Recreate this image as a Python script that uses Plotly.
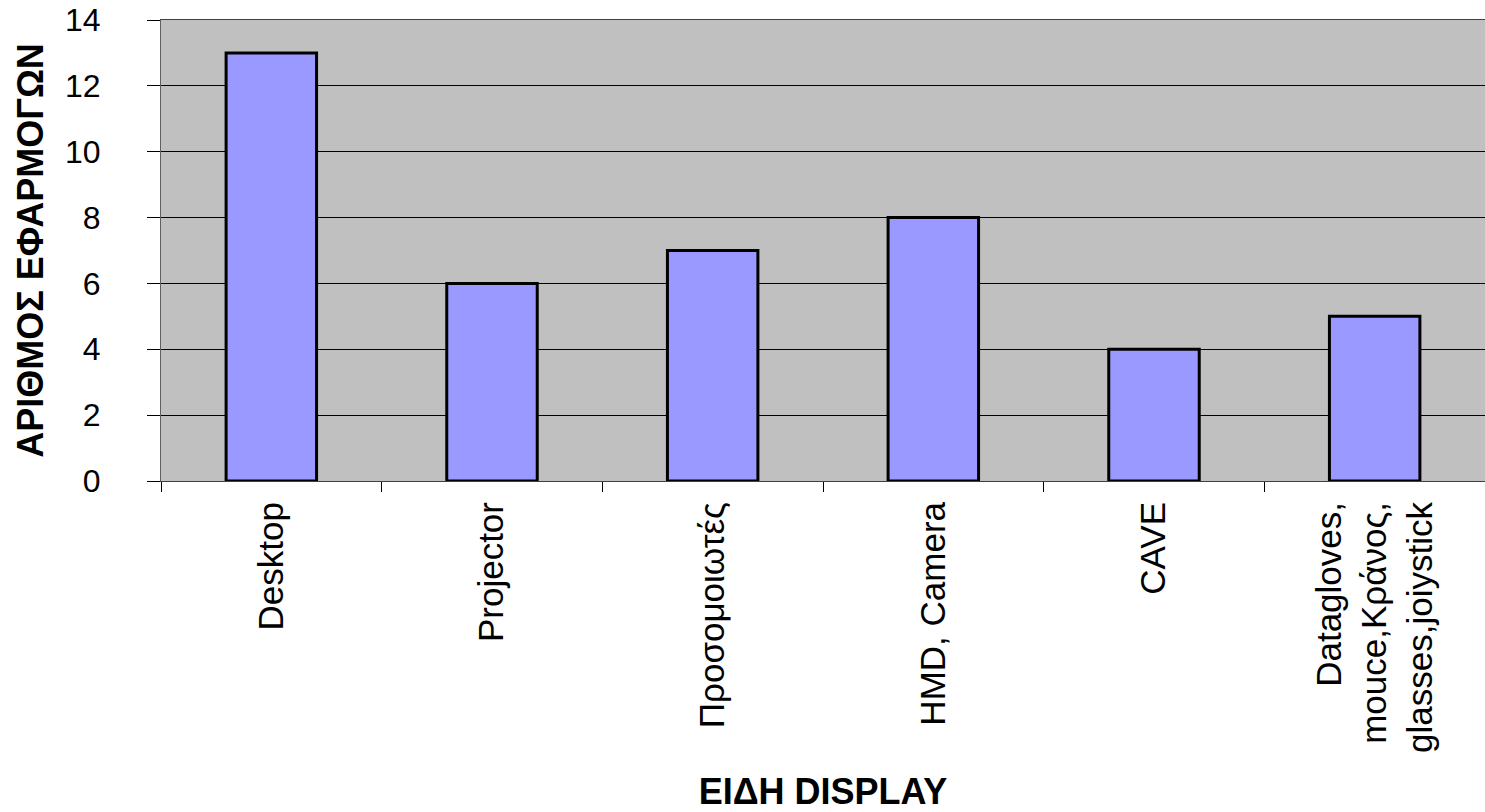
import plotly.graph_objects as go

# Display types and number of applications for each
categories = [
    "Desktop",
    "Projector",
    "Προσομοιωτές",
    "HMD, Camera",
    "CAVE",
    "Datagloves,<br>mouce,Κράνος,<br>glasses,joiystick",
]
app_counts = [13, 6, 7, 8, 4, 5]
y_ticks = [0, 2, 4, 6, 8, 10, 12, 14]

FONT = "Liberation Sans, Arial, sans-serif"

fig = go.Figure(
    go.Bar(
        x=categories,
        y=app_counts,
        marker=dict(color="#9999FF", line=dict(color="#000000", width=3)),
        hoverinfo="x+y",
    )
)

fig.update_layout(
    width=1485,
    height=812,
    margin=dict(l=161, r=0, t=20, b=331),
    paper_bgcolor="#FFFFFF",
    plot_bgcolor="#C0C0C0",
    bargap=0.59,
    showlegend=False,
    font=dict(family=FONT, color="#000000"),
)

fig.update_xaxes(
    type="category",
    range=[-0.5, len(categories) - 0.5],
    tickson="boundaries",
    ticks="outside",
    ticklen=10,
    tickwidth=1,
    tickcolor="#000000",
    tickangle=-90,
    tickfont=dict(family=FONT, size=35, color="#000000"),
    ticklabelstandoff=6,
    showline=True,
    linecolor="#404040",
    linewidth=1,
    mirror=True,
    showgrid=False,
    title=dict(
        text="ΕΙΔΗ DISPLAY",
        font=dict(family=FONT, size=36, color="#000000", weight="bold"),
        standoff=26,
    ),
)

fig.update_yaxes(
    range=[0, 14],
    tickvals=y_ticks,
    ticktext=[str(v) for v in y_ticks],
    ticks="outside",
    ticklen=13,
    tickwidth=1,
    tickcolor="#000000",
    tickfont=dict(family=FONT, size=32, color="#000000"),
    ticklabelposition="outside",
    ticklabelstandoff=40,
    showline=True,
    linecolor="#606060",
    linewidth=1,
    showgrid=True,
    gridcolor="#000000",
    gridwidth=1,
    zeroline=False,
    title=dict(
        text="ΑΡΙΘΜΟΣ ΕΦΑΡΜΟΓΩΝ",
        font=dict(family=FONT, size=36, color="#000000", weight="bold"),
        standoff=10,
    ),
)

fig.write_html("out.html")
